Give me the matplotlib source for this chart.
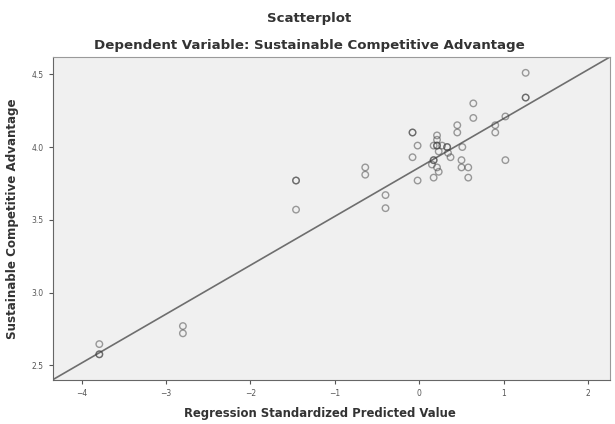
import matplotlib.pyplot as plt

# standardized predicted value (x) and observed outcome (y); repeats are overlapping cases
pred = [-3.79, -3.79, -3.79, -2.80, -2.80, -1.46, -1.46, -1.46,
        -0.64, -0.64, -0.40, -0.40, -0.08, -0.08, -0.02, -0.02, -0.08,
        0.21, 0.21, 0.21, 0.17, 0.27, 0.33, 0.23, 0.34, 0.37, 0.17,
        0.15, 0.21, 0.23, 0.17, 0.51, 0.45, 0.45, 0.64, 0.64, 0.50,
        0.50, 0.58, 0.58, 0.90, 0.90, 1.02, 1.02, 1.26, 1.26, 1.26,
        0.21, 0.33, 0.17]
sca = [2.646, 2.576, 2.576, 2.77, 2.72, 3.77, 3.77, 3.57,
       3.86, 3.81, 3.67, 3.58, 4.10, 4.10, 4.01, 3.77, 3.93,
       4.08, 4.05, 4.01, 4.01, 4.01, 4.00, 3.97, 3.96, 3.93, 3.91,
       3.88, 3.86, 3.83, 3.79, 4.00, 4.15, 4.10, 4.20, 4.30, 3.91,
       3.86, 3.86, 3.79, 4.15, 4.10, 4.21, 3.91, 4.51, 4.34, 4.34,
       4.01, 4.00, 3.91]

fit_x = [-4.34, 2.26]
fit_y = [3.86 + 0.336 * v for v in fit_x]

plt.rcParams['font.family'] = ['DejaVu Sans']

fig = plt.figure(figsize=(6.15, 4.24), dpi=100)
ax = fig.add_axes([0.086, 0.104, 0.906, 0.762])
ax.set_facecolor('#f0f0f0')

ax.scatter(pred, sca, s=22, facecolors='none', edgecolors=(0.25, 0.25, 0.25, 0.5),
           linewidths=1.0, zorder=3)
ax.plot(fit_x, fit_y, color='#6e6e6e', lw=1.2, zorder=2)

ax.set_xlim(-4.34, 2.26)
ax.set_ylim(2.40, 4.62)
ax.set_xticks([-4, -3, -2, -1, 0, 1, 2])
ax.set_yticks([2.5, 3.0, 3.5, 4.0, 4.5])
ax.set_yticklabels(['2.5', '3.0', '3.5', '4.0', '4.5'])
ax.tick_params(labelsize=5.5, colors='#555555', length=3)

for s in ax.spines.values():
    s.set_color('#9a9a9a')
ax.spines['left'].set_color('#666666')
ax.spines['bottom'].set_color('#666666')

ax.set_xlabel('Regression Standardized Predicted Value', fontsize=8.4,
              fontweight='bold', color='#333333')
ax.xaxis.set_label_coords(0.479, -0.085)
ax.set_ylabel('Sustainable Competitive Advantage', fontsize=8.6,
              fontweight='bold', color='#333333', labelpad=9)

fig.text(0.503, 0.957, 'Scatterplot', ha='center', va='center',
         fontsize=9.5, fontweight='bold', color='#333333')
fig.text(0.503, 0.892, 'Dependent Variable: Sustainable Competitive Advantage',
         ha='center', va='center', fontsize=9.6, fontweight='bold', color='#333333')

fig.savefig('out.png', dpi=100)
